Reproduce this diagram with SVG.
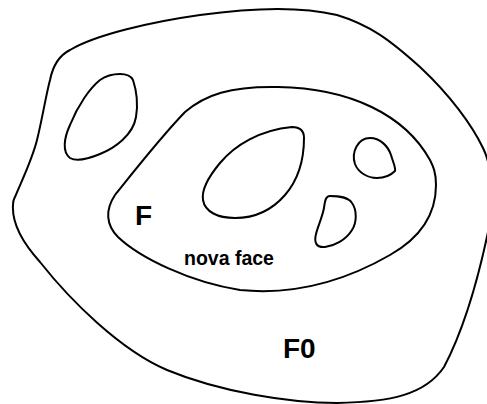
<svg xmlns="http://www.w3.org/2000/svg" width="487" height="404" viewBox="0 0 487 404">
<style>
.c{fill:none;stroke:#000;stroke-width:2;stroke-linejoin:round}
.t{font-family:"Liberation Sans",Arial,sans-serif;font-weight:bold;fill:#000}
</style>
<rect width="487" height="404" fill="#fff"/>
<g id="outer">
<path class="c" d="M 15,197 C 22,180 32,160 37,140 C 42,120 46,95 50,80 C 53,65 60,55 70,50 C 95,35 150,22 200,15 C 250,8 300,6 337,15 C 370,25 390,40 420,67 C 450,95 472,125 483,148 C 494,170 494,210 488,232 C 480,270 466,325 444,367 C 425,395 390,402 337,403 C 290,403 220,392 167,370 C 120,350 70,300 40,262 C 20,240 12,220 13,205 C 13,200 14,199 15,197 Z"/>
</g>
<g id="inner">
<path class="c" d="M 278,87 C 230,86 205,95 185,112 C 160,138 135,170 115,195 C 105,210 106,225 118,237 C 140,258 190,282 240,290 C 300,296 350,278 390,255 C 420,238 436,215 436,185 C 436,172 433,166 430,160 C 405,115 350,88 278,87 Z"/>
</g>
<g id="hole1">
<path class="c" d="M 120,74 C 128,74 131,76 133,80 C 137,92 138,105 136,117 C 133,135 115,148 100,154 C 88,159 77,162 70,158 C 62,152 64,138 70,125 C 78,105 90,88 100,80 C 107,75 113,74 120,74 Z"/>
</g>
<g id="hole2">
<path class="c" d="M 292,127 C 300,127 304,131 304,138 C 304,160 298,180 285,195 C 272,210 255,218 235,218 C 218,218 205,212 203,200 C 201,188 210,175 220,163 C 235,145 260,130 292,127 Z"/>
</g>
<g id="hole3">
<path class="c" d="M 370,138 C 380,138 388,146 391,155 C 393,162 396,168 395,171 C 390,176 383,178 377,178 C 367,178 358,172 355,164 C 351,152 358,138 370,138 Z"/>
</g>
<g id="hole4">
<path class="c" d="M 330,196 C 340,196 348,197 352,203 C 357,210 357,222 352,230 C 346,240 334,246 325,247 C 316,248 314,242 316,234 C 318,226 322,218 324,208 C 325,200 326,196 330,196 Z"/>
</g>
<g id="labels">
<text class="t" x="135" y="225" font-size="28">F</text>
<text class="t" x="184" y="265" font-size="19.5">nova face</text>
<text class="t" x="283" y="358" font-size="28">F0</text>
</g>
</svg>
